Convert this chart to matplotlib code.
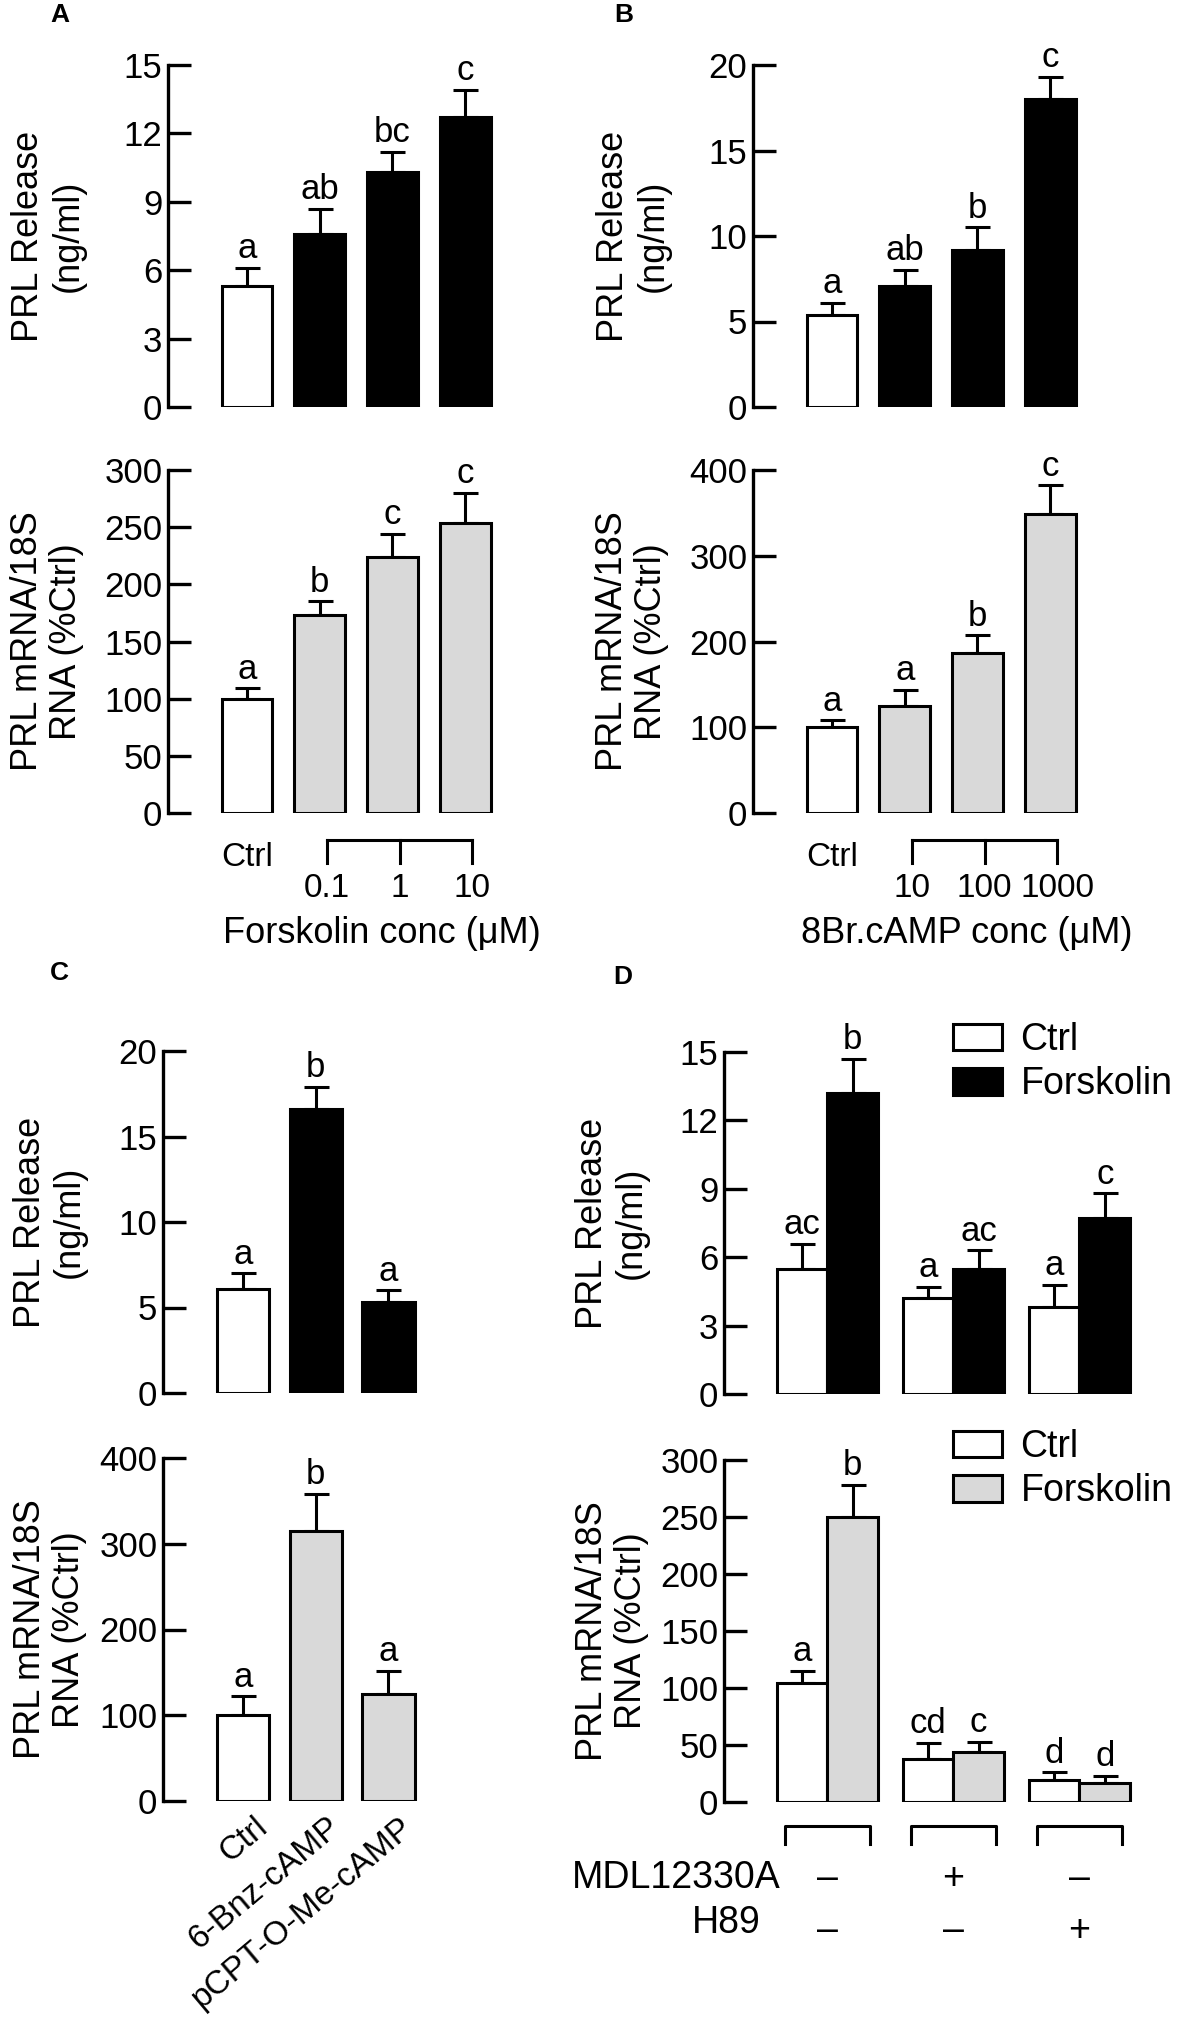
import matplotlib
matplotlib.use('Agg')
import matplotlib.pyplot as plt
from matplotlib.patches import Patch
from matplotlib.transforms import blended_transform_factory
import numpy as np

plt.rcParams['font.family'] = ['Liberation Sans', 'DejaVu Sans']

# ---- data ----
A_conc = ['0.1', '1', '10']
A_prl = [5.3, 7.6, 10.3, 12.7]
A_prl_err = [0.8, 1.1, 0.9, 1.2]
A_prl_sig = ['a', 'ab', 'bc', 'c']
A_mrna = [100, 173, 224, 254]
A_mrna_err = [9, 12, 20, 26]
A_mrna_sig = ['a', 'b', 'c', 'c']

B_conc = ['10', '100', '1000']
B_prl = [5.4, 7.1, 9.2, 18.0]
B_prl_err = [0.7, 0.9, 1.3, 1.3]
B_prl_sig = ['a', 'ab', 'b', 'c']
B_mrna = [100, 125, 187, 349]
B_mrna_err = [8, 19, 20, 33]
B_mrna_sig = ['a', 'a', 'b', 'c']

C_groups = ['Ctrl', '6-Bnz-cAMP', 'pCPT-O-Me-cAMP']
C_prl = [6.1, 16.6, 5.3]
C_prl_err = [0.9, 1.3, 0.7]
C_prl_sig = ['a', 'b', 'a']
C_mrna = [100, 315, 125]
C_mrna_err = [22, 43, 27]
C_mrna_sig = ['a', 'b', 'a']

D_mdl = ['–', '+', '–']
D_h89 = ['–', '–', '+']
D_prl_ctrl = [5.5, 4.2, 3.8]
D_prl_ctrl_err = [1.1, 0.5, 1.0]
D_prl_fsk = [13.2, 5.5, 7.7]
D_prl_fsk_err = [1.5, 0.8, 1.1]
D_prl_ctrl_sig = ['ac', 'a', 'a']
D_prl_fsk_sig = ['b', 'ac', 'c']
D_mrna_ctrl = [104, 38, 19]
D_mrna_ctrl_err = [11, 14, 7]
D_mrna_fsk = [250, 44, 17]
D_mrna_fsk_err = [28, 9, 6]
D_mrna_ctrl_sig = ['a', 'cd', 'd']
D_mrna_fsk_sig = ['b', 'c', 'd']

GRAY = '#d9d9d9'
LW = 2.2
FS_TICK = 25
FS_SIG = 25
FS_YLAB = 26
FS_D = 27

W, H = 1181, 2025
fig = plt.figure(figsize=(W / 100, H / 100), dpi=100)


def px_axes(left, top, width, height):
    return fig.add_axes([left / W, 1 - (top + height) / H, width / W, height / H])


def style(ax, yticks, xlim):
    for s in ['top', 'right', 'bottom']:
        ax.spines[s].set_visible(False)
    ax.spines['left'].set_linewidth(2.4)
    ax.set_xticks([])
    ax.set_yticks(yticks)
    ax.set_ylim(yticks[0], yticks[-1])
    ax.set_xlim(*xlim)
    ax.tick_params(axis='y', direction='in', length=16.5, width=2.4,
                   labelsize=FS_TICK, pad=4)
    ax.patch.set_alpha(0)


def bars(ax, x, vals, errs, sig, color, width):
    ax.errorbar(x, vals, yerr=[np.zeros(len(vals)), errs], fmt='none',
                ecolor='k', elinewidth=LW, capsize=9, capthick=LW, zorder=1)
    ax.bar(x, vals, width=width, color=color, edgecolor='k', linewidth=LW,
           zorder=2)
    for xi, v, e, s in zip(x, vals, errs, sig):
        ax.annotate(s, (xi, v + e), xytext=(0, 7), textcoords='offset points',
                    ha='center', va='baseline', fontsize=FS_SIG,
                    annotation_clip=False)


def ylab(ax, text, shift):
    ax.text(shift, 0.5, text, transform=ax.transAxes, rotation=90,
            ha='center', va='center', fontsize=FS_YLAB, linespacing=1.15,
            multialignment='center')


def conc_bracket(ax, labels, xlabel):
    tr = blended_transform_factory(ax.transData, ax.transAxes)
    xs = np.arange(1, len(labels) + 1) + 0.1
    ax.plot([xs[0], xs[-1]], [-0.079, -0.079], color='k', lw=LW,
            transform=tr, clip_on=False)
    for xi, lab in zip(xs, labels):
        ax.plot([xi, xi], [-0.079, -0.146], color='k', lw=LW,
                transform=tr, clip_on=False)
        ax.text(xi, -0.219, lab, transform=tr, ha='center', va='center',
                fontsize=24)
    ax.text(0, -0.131, 'Ctrl', transform=tr, ha='center', va='center',
            fontsize=24)
    ax.text(1.85, -0.35, xlabel, transform=tr, ha='center', va='center',
            fontsize=26)


def legend(ax, color, top):
    handles = [Patch(facecolor='white', edgecolor='k', linewidth=LW),
               Patch(facecolor=color, edgecolor='k', linewidth=LW)]
    ax.legend(handles, ['Ctrl', 'Forskolin'], loc='upper left',
              bbox_to_anchor=(953 / W, 1 - top / H),
              bbox_transform=fig.transFigure, frameon=False, borderpad=0,
              borderaxespad=0, handlelength=1.3, handleheight=0.72,
              handletextpad=0.5, labelspacing=0.22, fontsize=FS_D)


xA = np.arange(len(A_prl))
cols4 = ['white', 'k', 'k', 'k']
cols4g = ['white', GRAY, GRAY, GRAY]
xlim4 = (-1.087, 3.48)

# ---- panel A ----
ax = px_axes(168, 65, 332, 342)
style(ax, [0, 3, 6, 9, 12, 15], xlim4)
bars(ax, xA, A_prl, A_prl_err, A_prl_sig, cols4, 0.7)
ylab(ax, 'PRL Release\n(ng/ml)', -0.36)

ax = px_axes(168, 470, 332, 343)
style(ax, [0, 50, 100, 150, 200, 250, 300], xlim4)
bars(ax, xA, A_mrna, A_mrna_err, A_mrna_sig, cols4g, 0.7)
ylab(ax, 'PRL mRNA/18S\nRNA (%Ctrl)', -0.365)
conc_bracket(ax, A_conc, 'Forskolin conc (μM)')

# ---- panel B ----
xB = np.arange(len(B_prl))
ax = px_axes(753, 65, 332, 342)
style(ax, [0, 5, 10, 15, 20], xlim4)
bars(ax, xB, B_prl, B_prl_err, B_prl_sig, cols4, 0.7)
ylab(ax, 'PRL Release\n(ng/ml)', -0.36)

ax = px_axes(753, 470, 332, 343)
style(ax, [0, 100, 200, 300, 400], xlim4)
bars(ax, xB, B_mrna, B_mrna_err, B_mrna_sig, cols4g, 0.7)
ylab(ax, 'PRL mRNA/18S\nRNA (%Ctrl)', -0.365)
conc_bracket(ax, B_conc, '8Br.cAMP conc (μM)')

# ---- panel C ----
xC = np.arange(len(C_groups))
xlim3 = (-1.1, 2.6)
ax = px_axes(163, 1051, 269, 342)
style(ax, [0, 5, 10, 15, 20], xlim3)
bars(ax, xC, C_prl, C_prl_err, C_prl_sig, ['white', 'k', 'k'], 0.72)
ylab(ax, 'PRL Release\n(ng/ml)', -0.42)

ax = px_axes(163, 1458, 269, 343)
style(ax, [0, 100, 200, 300, 400], xlim3)
bars(ax, xC, C_mrna, C_mrna_err, C_mrna_sig, ['white', GRAY, GRAY], 0.72)
ylab(ax, 'PRL mRNA/18S\nRNA (%Ctrl)', -0.42)
trC = blended_transform_factory(ax.transData, ax.transAxes)
for xi, lab in zip(xC, C_groups):
    ax.text(xi + 0.15, -0.03, lab, transform=trC, rotation=40, ha='right',
            va='top', rotation_mode='anchor', fontsize=24)

# ---- panel D ----
xD = np.arange(len(D_mdl))
xlimD = (-0.82, 2.48)
ax = px_axes(724, 1052, 416, 342)
style(ax, [0, 3, 6, 9, 12, 15], xlimD)
bars(ax, xD - 0.2, D_prl_ctrl, D_prl_ctrl_err, D_prl_ctrl_sig, 'white', 0.4)
bars(ax, xD + 0.2, D_prl_fsk, D_prl_fsk_err, D_prl_fsk_sig, 'k', 0.4)
ylab(ax, 'PRL Release\n(ng/ml)', -0.27)
legend(ax, 'k', 1022)

ax = px_axes(724, 1460, 416, 342)
style(ax, [0, 50, 100, 150, 200, 250, 300], xlimD)
bars(ax, xD - 0.2, D_mrna_ctrl, D_mrna_ctrl_err, D_mrna_ctrl_sig, 'white', 0.4)
bars(ax, xD + 0.2, D_mrna_fsk, D_mrna_fsk_err, D_mrna_fsk_sig, GRAY, 0.4)
ylab(ax, 'PRL mRNA/18S\nRNA (%Ctrl)', -0.27)
legend(ax, GRAY, 1429)
trD = blended_transform_factory(ax.transData, ax.transAxes)
for xi, m, h in zip(xD, D_mdl, D_h89):
    ax.plot([xi - 0.34, xi - 0.34, xi + 0.34, xi + 0.34],
            [-0.123, -0.07, -0.07, -0.123], color='k', lw=LW,
            transform=trD, clip_on=False)
    ax.text(xi, -0.225, m, transform=trD, ha='center', va='center',
            fontsize=FS_D)
    ax.text(xi, -0.377, h, transform=trD, ha='center', va='center',
            fontsize=FS_D)
ax.text(-0.37, -0.222, 'MDL12330A', transform=trD, ha='right', va='center',
        fontsize=FS_D)
ax.text(-0.53, -0.354, 'H89', transform=trD, ha='right', va='center',
        fontsize=FS_D)

# ---- panel letters ----
for lab, px, py in [('A', 50, 15), ('B', 614, 15), ('C', 50, 973), ('D', 613, 977)]:
    fig.text(px / W, 1 - py / H, lab, fontsize=19, fontweight='bold',
             ha='left', va='center')

fig.savefig('out.png', dpi=100)
